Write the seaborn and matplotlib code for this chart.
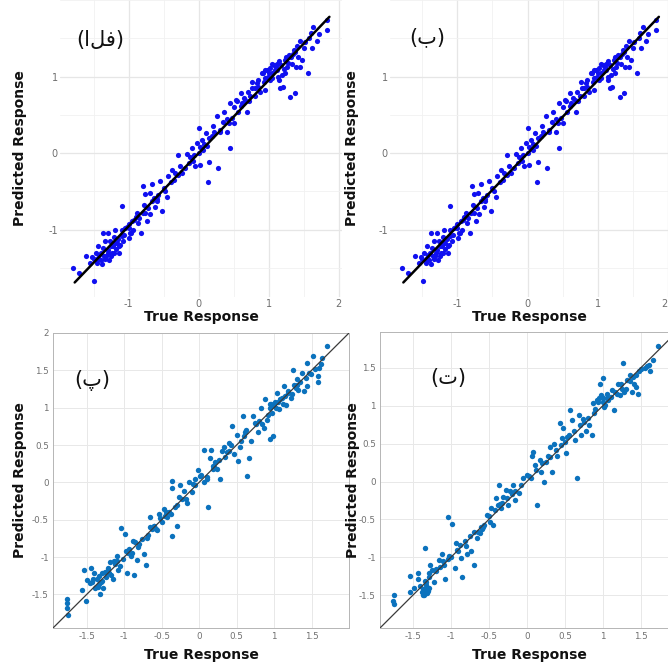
import matplotlib
matplotlib.use("Agg")
import matplotlib.pyplot as plt
import seaborn as sns
from matplotlib.ticker import MultipleLocator

sns.set_theme(style="white")
plt.rcParams['font.family'] = ['DejaVu Sans']

# ---------------- data ----------------
true_a = [-1.79, -1.71, -1.49, -1.61, -1.52, -1.47, -1.43, -1.39, -1.36, -1.32, -1.29, -1.25, -1.21,
          -1.37, -1.29, -1.21, -1.17, -1.13, -1.19, -1.10, -1.10, -1.06, -1.02, -0.99, -1.43, -1.33,
          -1.14, -1.26, -1.55, -1.45,
          -0.95, -0.93, -0.90, -0.86, -0.82, -0.76, -0.74, -0.69, -0.79, -0.76, -0.70, -0.67, -0.64,
          -0.60, -0.55, -0.52, -0.48, -0.45, -0.88, -0.98,
          -0.43, -0.38, -0.34, -0.29, -0.26, -0.23, -0.17, -0.14, -0.10, -0.07, -0.05, -0.02, 0.00,
          0.00, 0.02,
          0.05, 0.07, 0.10, 0.12, 0.13, 0.15, 0.19, 0.21, 0.26, 0.28, 0.31, 0.36, 0.40, 0.43, 0.45,
          0.48, 0.45,
          0.51, 0.53, 0.56, 0.60, 0.62, 0.67, 0.69, 0.74, 0.77, 0.81, 0.83, 0.88, 0.90, 0.93, 0.95,
          0.99, 0.76,
          1.02, 1.05, 1.09, 1.12, 1.14, 1.17, 1.19, 1.20, 1.23, 1.26, 1.29, 1.31, 1.33, 1.36, 1.38,
          1.39, 1.42, 1.45, 1.48, 1.50, 1.56, 1.60, 1.62, 1.64, 1.69, 1.83, 1.83, 1.05, 0.95, 1.24,
          1.45,
          -1.40, -1.30, -1.20, -1.10, -1.00, -0.80, -0.60, -0.40, -0.20, 0.05, 0.30, 0.60, 0.85, 1.00,
          1.10, 1.25, 1.15, 1.35, 0.95, -1.25, -1.35, -1.45,
          -1.50, -1.42, -1.38, -1.34, -1.28, -1.24, -1.18, -1.15, -1.08, -1.05, -1.00, -0.96, -0.92,
          -0.85, -0.78, -0.72, -0.66, -0.58, -0.50, -0.35, -0.30, -0.12, -0.08, 0.02, 0.08, 0.15,
          0.22, 0.35, 0.50, 0.55, 0.65, 0.70, 0.80, 0.85, 0.92, 0.98, 1.05, 1.08, 1.12, 1.18, 1.22,
          1.28, 1.32, 1.38, 1.40, 1.52, 1.58, 1.72, -1.22, -1.12, -0.62, 0.40, 0.72, 1.02, 1.15]
pred_a = [-1.50, -1.57, -1.67, -1.35, -1.36, -1.30, -1.37, -1.30, -1.24, -1.35, -1.27, -1.22, -1.30,
          -1.04, -1.04, -1.10, -1.17, -1.31, -1.00, -0.69, -1.00, -1.07, -0.96, -1.11, -1.22, -1.15,
          -1.22, -1.15, -1.43, -1.43,
          -0.89, -1.00, -0.83, -0.91, -1.04, -0.78, -0.89, -0.80, -0.43, -0.54, -0.52, -0.41, -0.59,
          -0.63, -0.37, -0.76, -0.50, -0.57, -0.78, -1.04,
          -0.30, -0.22, -0.26, -0.02, -0.17, -0.26, -0.01, -0.13, 0.07, -0.02, -0.17, 0.13, 0.33,
          0.00, -0.15,
          0.17, 0.04, 0.26, 0.09, -0.38, -0.11, 0.22, 0.35, 0.48, -0.20, 0.28, 0.54, 0.28, 0.39, 0.07,
          0.46, 0.65,
          0.39, 0.70, 0.54, 0.78, 0.65, 0.70, 0.54, 0.74, 0.85, 0.74, 0.91, 0.80, 1.04, 0.93, 0.83,
          1.00, 0.93,
          1.11, 0.98, 1.09, 1.17, 1.00, 0.85, 1.02, 0.86, 1.22, 1.13, 1.28, 0.73, 1.17, 1.35, 0.78,
          1.13, 1.26, 1.46, 1.22, 1.37, 1.04, 1.57, 1.37, 1.65, 1.46, 1.74, 1.61, 1.17, 1.09, 1.04,
          1.13,
          -1.40, -1.30, -1.18, -1.08, -0.98, -0.78, -0.60, -0.38, -0.20, 0.05, 0.30, 0.62, 0.86, 1.04,
          1.12, 1.25, 1.20, 1.30, 0.98, -1.35, -1.35, -1.40,
          -1.38, -1.33, -1.45, -1.38, -1.40, -1.30, -1.25, -1.12, -1.15, -0.98, -0.92, -1.05, -0.88,
          -0.85, -0.68, -0.72, -0.62, -0.55, -0.45, -0.35, -0.28, -0.05, -0.10, 0.08, 0.12, 0.20,
          0.28, 0.40, 0.60, 0.68, 0.72, 0.80, 0.85, 0.95, 1.05, 1.08, 1.05, 1.15, 1.08, 1.15, 1.10,
          1.18, 1.25, 1.32, 1.40, 1.45, 1.50, 1.55, -1.22, -1.20, -0.70, 0.45, 0.68, 0.95, 0.95]
# panel (ب) shows the same model output as panel (الف)
true_b = true_a
pred_b = pred_a
fit_x = [-1.77, 1.87]
fit_y = [-1.69, 1.78]

true_c = [-1.76, -1.76, -1.76, -1.75, -1.56, -1.51, -1.54, -1.49, -1.44, -1.43, -1.40, -1.39, -1.36,
          -1.33, -1.32, -1.30, -1.28, -1.24, -1.21, -1.19, -1.15, -1.12, -1.09, -1.08, -1.04, -1.02,
          -0.99, -0.96, -0.94, -0.91, -0.88, -0.87, -0.83, -0.81, -0.76, -0.73, -0.71, -0.68, -0.65,
          -0.63, -0.60, -0.56, -0.53, -0.50, -0.47, -0.43, -0.40, -0.36, -0.36, -0.36, -0.32, -0.29,
          -0.25, -0.23, -0.20, -0.16, -0.13, -0.10, -0.05, -0.01, 0.01, 0.06, 0.07, 0.10, 0.12, 0.14,
          0.16, 0.18, 0.21, 0.24, 0.28, 0.30, 0.33, 0.37, 0.40, 0.44, 0.46, 0.50, 0.52, 0.56, 0.58,
          0.61, 0.64, 0.66, 0.69, 0.72, 0.76, 0.79, 0.82, 0.86, 0.88, 0.90, 0.94, 0.97, 0.99, 1.01,
          1.04, 1.07, 1.10, 1.13, 1.16, 1.19, 1.22, 1.25, 1.27, 1.30, 1.32, 1.37, 1.40, 1.44, 1.44,
          1.47, 1.52, 1.58, 1.59, 1.64, 1.70, 1.60,
          -1.35, -1.30, -1.20, -1.10, -0.95, -0.80, -0.60, -0.45, -0.30, -0.05, 0.20, 0.40, 0.60,
          0.80, 0.95, 1.05, 1.15, 1.30, 1.00, 0.95,
          -1.46, -1.41, -1.37, -1.34, -1.31, -1.26, -1.22, -1.17, -1.13, -1.05, -0.97, -0.90, -0.85,
          -0.70, -0.66, -0.58, -0.52, -0.44, -0.38, -0.27, -0.18, -0.08, 0.03, 0.11, 0.19, 0.26,
          0.35, 0.43, 0.54, 0.63, 0.74, 0.84, 0.92, 0.96, 1.03, 1.08, 1.12, 1.18, 1.24, 1.29, 1.35,
          1.42, 1.49, 1.55, 1.62]
pred_c = [-1.56, -1.61, -1.68, -1.78, -1.44, -1.59, -1.18, -1.31, -1.15, -1.33, -1.22, -1.42, -1.29,
          -1.36, -1.49, -1.21, -1.42, -1.27, -1.18, -1.07, -1.29, -1.09, -0.98, -1.18, -0.61, -1.02,
          -0.69, -1.21, -0.89, -0.98, -0.78, -1.24, -1.04, -0.87, -0.76, -0.96, -1.11, -0.71, -0.47,
          -0.62, -0.58, -0.64, -0.42, -0.53, -0.36, -0.47, -0.40, -0.72, 0.02, -0.08, -0.33, -0.58,
          -0.04, -0.22, -0.12, -0.27, 0.00, -0.13, 0.04, 0.17, 0.09, 0.00, 0.44, 0.07, -0.33, 0.33,
          0.44, 0.18, 0.27, 0.18, 0.04, 0.42, 0.47, 0.40, 0.53, 0.76, 0.38, 0.64, 0.29, 0.56, 0.89,
          0.67, 0.09, 0.33, 0.56, 0.89, 0.78, 0.67, 1.00, 0.73, 1.11, 0.84, 0.58, 0.93, 0.62, 1.07,
          1.20, 0.98, 1.13, 1.29, 1.04, 1.20, 1.13, 1.51, 1.31, 1.38, 1.24, 1.46, 1.22, 1.60, 1.29,
          1.47, 1.69, 1.42, 1.34, 1.67, 1.82, 1.53,
          -1.40, -1.32, -1.22, -1.05, -0.95, -0.82, -0.58, -0.45, -0.30, -0.03, 0.20, 0.42, 0.62,
          0.82, 1.00, 1.08, 1.15, 1.30, 1.02, 1.05,
          -1.35, -1.30, -1.40, -1.25, -1.34, -1.20, -1.15, -1.24, -1.05, -1.12, -0.92, -0.95, -0.80,
          -0.74, -0.60, -0.62, -0.48, -0.40, -0.42, -0.20, -0.22, -0.02, 0.10, 0.05, 0.22, 0.30,
          0.34, 0.50, 0.48, 0.70, 0.80, 0.78, 0.90, 1.05, 1.00, 1.12, 1.05, 1.22, 1.18, 1.26, 1.35,
          1.40, 1.45, 1.52, 1.58]

true_d = [-1.75, -1.76, -1.75, -1.53, -1.54, -1.48, -1.43, -1.43, -1.40, -1.38, -1.35, -1.33, -1.31,
          -1.29, -1.32, -1.34, -1.34, -1.27, -1.29, -1.22, -1.19, -1.16, -1.11, -1.09, -1.07, -1.04,
          -1.03, -0.98, -0.95, -0.93, -0.90, -0.86, -0.85, -0.81, -0.78, -0.74, -0.70, -0.69, -0.66,
          -0.62, -0.59, -0.56, -0.52, -0.49, -0.47, -0.44, -0.41, -0.38, -0.36, -0.34, -0.31, -0.28,
          -0.25, -0.22, -0.18, -0.15, -0.10, -0.05, 0.00, 0.07, 0.08, 0.11, 0.14, 0.17, 0.18, 0.22,
          0.25, 0.31, 0.33, 0.36, 0.39, 0.43, 0.46, 0.48, 0.52, 0.55, 0.57, 0.60, 0.63, 0.66, 0.68,
          0.71, 0.74, 0.78, 0.82, 0.85, 0.87, 0.92, 0.96, 0.98, 1.00, 1.03, 1.07, 1.14, 1.16, 1.20,
          1.22, 1.26, 1.28, 1.31, 1.35, 1.38, 1.41, 1.44, 1.46, 1.48, 1.55, 1.61, 1.62, 1.66, 1.72,
          -1.20, -1.00, -0.80, -0.60, -0.35, -0.15, 0.05, 0.30, 0.50, 0.75, 0.90, 1.00, 1.10, 1.25,
          1.40, 1.00, 0.95, 1.05,
          -1.37, -1.36, -1.33, -1.30, -1.36, -1.32, -1.28, -1.24, -1.14, -1.10, -1.02, -0.92, -0.88,
          -0.75, -0.64, -0.58, -0.50, -0.42, -0.33, -0.26, -0.20, -0.08, 0.03, 0.12, 0.20, 0.28,
          0.38, 0.45, 0.53, 0.62, 0.70, 0.80, 0.88, 0.94, 0.99, 1.02, 1.06, 1.12, 1.18, 1.24, 1.30,
          1.36, 1.43, 1.50, 1.58]
pred_d = [-1.50, -1.57, -1.61, -1.25, -1.45, -1.40, -1.29, -1.21, -1.38, -1.45, -1.49, -1.43, -1.47,
          -1.40, -1.36, -1.31, -0.88, -1.10, -1.21, -1.32, -1.18, -1.03, -0.96, -1.10, -1.29, -0.47,
          -1.02, -0.56, -1.14, -0.81, -0.92, -1.01, -1.26, -0.79, -0.96, -0.92, -1.10, -0.66, -0.75,
          -0.68, -0.62, -0.57, -0.44, -0.53, -0.35, -0.57, -0.22, -0.31, -0.04, -0.35, -0.20, -0.11,
          -0.31, -0.13, -0.04, -0.24, -0.15, 0.04, 0.09, 0.33, 0.39, 0.22, -0.31, 0.29, 0.13, 0.00,
          0.26, 0.46, 0.13, 0.50, 0.33, 0.77, 0.57, 0.70, 0.37, 0.61, 0.94, 0.81, 0.55, 0.04, 0.88,
          0.61, 0.83, 0.66, 0.75, 0.61, 1.03, 1.07, 1.29, 1.14, 1.36, 1.01, 1.07, 0.94, 1.18, 1.29,
          1.14, 1.56, 1.18, 1.34, 1.40, 1.18, 1.29, 1.25, 1.15, 1.45, 1.49, 1.54, 1.45, 1.60, 1.78,
          -1.15, -1.00, -0.85, -0.60, -0.30, -0.12, 0.05, 0.32, 0.52, 0.78, 0.95, 1.10, 1.12, 1.22,
          1.38, 1.05, 1.10, 1.15,
          -1.42, -1.47, -1.40, -1.44, -1.50, -1.33, -1.26, -1.17, -1.12, -1.05, -0.98, -0.90, -0.84,
          -0.72, -0.66, -0.60, -0.46, -0.38, -0.28, -0.22, -0.16, -0.05, 0.07, 0.15, 0.24, 0.33,
          0.42, 0.48, 0.58, 0.66, 0.74, 0.84, 0.90, 1.05, 1.12, 0.98, 1.10, 1.20, 1.15, 1.28, 1.22,
          1.33, 1.40, 1.48, 1.52]
ref_line = [-2.0, 2.0]

ticks_ab = [-1, 0, 1, 2]
ticks_c_x = [-1.5, -1, -0.5, 0, 0.5, 1, 1.5]
ticks_c_y = [-1.5, -1, -0.5, 0, 0.5, 1, 1.5, 2]

# ------------------------------------------------------------------
W = 668.0
fig = plt.figure(figsize=(6.68, 6.68), dpi=100)
fig.patch.set_facecolor('white')


def rect(l, t, w, h):
    return [l / W, 1 - (t + h) / W, w / W, h / W]


axA = fig.add_axes(rect(60, 0, 282, 297))
axB = fig.add_axes(rect(390, 0, 278, 297))
axC = fig.add_axes(rect(53, 333, 296, 295))
axD = fig.add_axes(rect(380, 332, 299, 296))

label_kw = dict(fontsize=10, fontweight='bold', color='#111111')


def fmt(v):
    return f"{v:g}"


def style_ab(ax, xl, yl, ylcoord):
    ax.set_xlim(*xl)
    ax.set_ylim(*yl)
    for s in ax.spines.values():
        s.set_visible(False)
    ax.set_xticks(ticks_ab)
    ax.set_xticklabels([fmt(v) for v in ticks_ab])
    ax.set_yticks([-1, 0, 1])
    ax.set_yticklabels(['-1', '0', '1'])
    ax.xaxis.set_minor_locator(MultipleLocator(0.5))
    ax.yaxis.set_minor_locator(MultipleLocator(0.5))
    ax.grid(True, which='major', color='#e6e6e6', linewidth=0.9)
    ax.grid(True, which='minor', color='#f1f1f1', linewidth=0.6)
    ax.tick_params(which='both', length=0, labelsize=7, colors='#6e6e6e', pad=1.5)
    ax.set_axisbelow(True)
    ax.set_xlabel('True Response', **label_kw)
    ax.set_ylabel('Predicted Response', **label_kw)
    ax.xaxis.label.set_va('center')
    ax.yaxis.label.set_va('center')
    ax.xaxis.set_label_coords(0.5, -0.068)
    ax.yaxis.set_label_coords(ylcoord, 0.5)


def style_cd(ax, xl, yl, ylcoord, yticks):
    ax.set_xlim(*xl)
    ax.set_ylim(*yl)
    for s in ax.spines.values():
        s.set_visible(True)
        s.set_color('#b5b5b5')
        s.set_linewidth(0.7)
    ax.set_xticks(ticks_c_x)
    ax.set_xticklabels([fmt(v) for v in ticks_c_x])
    ax.set_yticks(yticks)
    ax.set_yticklabels([fmt(v) for v in yticks])
    ax.grid(True, color='#e8e8e8', linewidth=0.7)
    ax.tick_params(which='both', direction='in', length=2.5, width=0.6, labelsize=6.3,
                   colors='#707070', pad=3)
    ax.set_axisbelow(True)
    ax.set_xlabel('True Response', **label_kw)
    ax.set_ylabel('Predicted Response', **label_kw)
    ax.xaxis.label.set_va('center')
    ax.yaxis.label.set_va('center')
    ax.xaxis.set_label_coords(0.5, -0.092)
    ax.yaxis.set_label_coords(ylcoord, 0.5)


# panels (الف) and (ب)
for ax, tx, py in ((axA, true_a, pred_a), (axB, true_b, pred_b)):
    sns.scatterplot(x=tx, y=py, ax=ax, color='#1010f0', s=14, linewidth=0, zorder=2)
    sns.lineplot(x=fit_x, y=fit_y, ax=ax, color='black', linewidth=1.8, zorder=3)

style_ab(axA, (-1.98, 2.05), (-1.88, 2.0), -0.142)
style_ab(axB, (-1.96, 2.0), (-1.88, 2.0), -0.137)
axB.get_xticklabels()[-1].set_horizontalalignment('right')

# panels (پ) and (ت)
for ax, tx, py in ((axC, true_c, pred_c), (axD, true_d, pred_d)):
    sns.scatterplot(x=tx, y=py, ax=ax, color='#0b72bd', s=15, linewidth=0, zorder=2)
    sns.lineplot(x=ref_line, y=ref_line, ax=ax, color='#3a3a3a', linewidth=0.9, zorder=3)

style_cd(axC, (-1.95, 2.0), (-1.95, 2.0), -0.111, ticks_c_y)
style_cd(axD, (-1.93, 2.0), (-1.93, 1.97), -0.09, ticks_c_y[:-1])

# panel letters (Persian, glyph forms written in the order they appear)
letter_kw = dict(fontsize=15, ha='center', va='center', color='#111111', family=['DejaVu Sans'])
fig.text(100 / W, 1 - 40 / W, '(\uFE8D\uFEDE\uFED3)', **letter_kw)
fig.text(427 / W, 1 - 37 / W, '(\u0628)', **letter_kw)
fig.text(92 / W, 1 - 380 / W, '(\u067E)', **letter_kw)
fig.text(448 / W, 1 - 378 / W, '(\u062A)', **letter_kw)

fig.savefig('out.png', dpi=100, facecolor='white')
